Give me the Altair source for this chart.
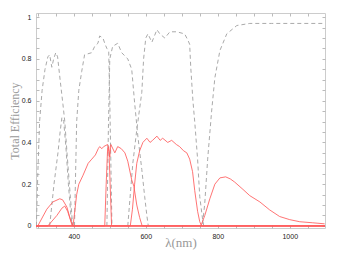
import altair as alt
import pandas as pd

# ---- data (wavelength nm, efficiency) ----
gray_A_wl = [296, 300, 305, 312, 320, 328, 333, 339, 344, 350, 355, 362, 370, 375, 382, 390, 397]
gray_A_v = [0, 0.25, 0.5, 0.65, 0.75, 0.81, 0.82, 0.76, 0.8, 0.83, 0.81, 0.7, 0.58, 0.5, 0.33, 0.15, 0]

gray_B_wl = [333, 345, 356, 362, 367, 372, 378, 385, 392, 396]
gray_B_v = [0, 0.2, 0.35, 0.45, 0.52, 0.5, 0.38, 0.2, 0.05, 0]

gray_C_wl = [402, 408, 414, 422, 430, 450, 458, 467, 472, 481, 487, 492, 497, 500, 503, 506]
gray_C_v = [0, 0.5, 0.65, 0.74, 0.82, 0.83, 0.86, 0.875, 0.91, 0.9, 0.87, 0.85, 0.84, 0.6, 0.3, 0]

gray_E_wl = [492, 496, 500, 508, 522, 533, 550, 561, 569, 578, 589, 597, 603, 607]
gray_E_v = [0, 0.45, 0.8, 0.86, 0.875, 0.83, 0.8, 0.75, 0.59, 0.43, 0.27, 0.14, 0.05, 0]

gray_F_wl = [550, 564, 575, 589, 594, 600, 606, 617, 631, 639, 653, 667, 686, 708, 717, 722, 725, 731, 736, 744, 750, 758, 761]
gray_F_v = [0, 0.3, 0.46, 0.64, 0.8, 0.9, 0.92, 0.88, 0.94, 0.92, 0.9, 0.93, 0.93, 0.92, 0.89, 0.87, 0.76, 0.6, 0.5, 0.32, 0.14, 0.03, 0]

gray_G_wl = [758, 764, 772, 783, 792, 806, 825, 853, 889, 950, 1020, 1100]
gray_G_v = [0.01, 0.11, 0.32, 0.55, 0.71, 0.84, 0.92, 0.96, 0.97, 0.97, 0.97, 0.97]

red_1_wl = [295, 300, 325, 342, 361, 369, 381, 389, 397, 1100]
red_1_v = [0, 0, 0.08, 0.115, 0.13, 0.125, 0.09, 0.04, 0, 0]

red_2_wl = [295, 328, 353, 367, 375, 383, 394, 397, 1100]
red_2_v = [0, 0, 0.05, 0.085, 0.095, 0.07, 0.01, 0, 0]

red_3_wl = [295, 398, 408, 414, 425, 440, 450, 460, 468, 472, 478, 483, 494, 498, 501, 505, 1100]
red_3_v = [0, 0, 0.15, 0.2, 0.24, 0.3, 0.32, 0.34, 0.37, 0.38, 0.37, 0.38, 0.39, 0.35, 0.2, 0, 0]

red_4_wl = [295, 486, 490, 494, 497, 500, 503, 514, 522, 532, 542, 550, 561, 567, 575, 583, 590, 1100]
red_4_v = [0, 0, 0.2, 0.37, 0.38, 0.33, 0.39, 0.35, 0.38, 0.37, 0.35, 0.31, 0.22, 0.19, 0.1, 0.04, 0, 0]

red_5_wl = [295, 557, 563, 569, 575, 583, 592, 603, 612, 619, 631, 640, 647, 661, 672, 685, 694, 705, 714, 722, 730, 736, 744, 750, 755, 1100]
red_5_v = [0, 0, 0.08, 0.2, 0.3, 0.36, 0.4, 0.42, 0.4, 0.41, 0.43, 0.41, 0.42, 0.4, 0.41, 0.39, 0.38, 0.36, 0.35, 0.32, 0.26, 0.17, 0.07, 0.02, 0, 0]

red_6_wl = [295, 753, 764, 778, 792, 806, 822, 835, 847, 870, 889, 917, 944, 972, 1000, 1028, 1064, 1097]
red_6_v = [0, 0, 0.05, 0.13, 0.2, 0.23, 0.235, 0.225, 0.21, 0.175, 0.145, 0.115, 0.077, 0.045, 0.03, 0.02, 0.015, 0.01]

gray_series = {"A": (gray_A_wl, gray_A_v), "B": (gray_B_wl, gray_B_v), "C": (gray_C_wl, gray_C_v),
               "E": (gray_E_wl, gray_E_v), "F": (gray_F_wl, gray_F_v), "G": (gray_G_wl, gray_G_v)}
red_series = {"R1": (red_1_wl, red_1_v), "R2": (red_2_wl, red_2_v), "R3": (red_3_wl, red_3_v),
              "R4": (red_4_wl, red_4_v), "R5": (red_5_wl, red_5_v), "R6": (red_6_wl, red_6_v)}

rows = []
for kind, group in (("gray", gray_series), ("red", red_series)):
    for name, (wl, v) in group.items():
        for i, (a, b) in enumerate(zip(wl, v)):
            rows.append({"kind": kind, "series": name, "wl": a, "v": b, "order": i})
df = pd.DataFrame(rows)

x_ticks = list(range(300, 1101, 50))
y_ticks = [round(i * 0.05, 2) for i in range(0, 21)]

xs = alt.Scale(domain=[295, 1098], nice=False, zero=False)
ys = alt.Scale(domain=[-0.01, 1.02], nice=False, zero=False)

tick_color = "#bbbbbb"
label_font = "Liberation Sans"
title_font = "Liberation Serif"

bottom_axis = alt.Axis(orient="bottom", values=x_ticks, domain=False, grid=False, format="d",
                       tickSize=3, offset=-3, tickColor=tick_color,
                       labelExpr="datum.value % 200 == 0 ? datum.label : ''",
                       labelFont=label_font, labelFontSize=7, labelColor="#222222", labelPadding=4,
                       title="λ(nm)", titleFont=title_font, titleFontSize=13, titleFontWeight="normal",
                       titleColor="#999999", titleBaseline="alphabetic", titleY=21)
left_axis = alt.Axis(orient="left", values=y_ticks, domain=False, grid=False,
                     tickSize=3, offset=-3, tickColor=tick_color,
                     labelExpr="round(datum.value*100) % 20 == 0 ? format(datum.value, '~g') : ''",
                     labelFont=label_font, labelFontSize=7, labelColor="#222222", labelPadding=5,
                     title="Total Efficiency", titleFont=title_font, titleFontSize=12,
                     titleFontWeight="normal", titleColor="#999999", titlePadding=0)
top_axis = alt.Axis(orient="top", values=x_ticks, domain=False, grid=False, labels=False,
                    tickSize=3, offset=-3, tickColor=tick_color, title="")
right_axis = alt.Axis(orient="right", values=y_ticks, domain=False, grid=False, labels=False,
                      tickSize=3, offset=-3, tickColor=tick_color, title="")

base = alt.Chart(df)

gray = base.transform_filter(alt.datum.kind == "gray").mark_line(
    color="#aaaaaa", strokeWidth=1, strokeDash=[4, 3], clip=True
).encode(
    x=alt.X("wl:Q", scale=xs, axis=bottom_axis),
    y=alt.Y("v:Q", scale=ys, axis=left_axis),
    detail="series:N",
    order="order:Q",
)

red = base.transform_filter(alt.datum.kind == "red").mark_line(
    color="#ff5c5c", strokeWidth=1, opacity=0.85, clip=True
).encode(
    x=alt.X("wl:Q", scale=xs, axis=top_axis),
    y=alt.Y("v:Q", scale=ys, axis=right_axis),
    detail="series:N",
    order="order:Q",
)

chart = alt.layer(gray, red).resolve_axis(x="independent", y="independent").properties(
    width=289, height=215, autosize=alt.AutoSizeParams(type="none"),
    padding={"left": 28, "top": 5, "right": 13, "bottom": 22},
    background="white",
).configure_view(stroke="#cccccc", strokeWidth=1)

chart.save("out.html", embed_options={"renderer": "svg", "actions": False})
